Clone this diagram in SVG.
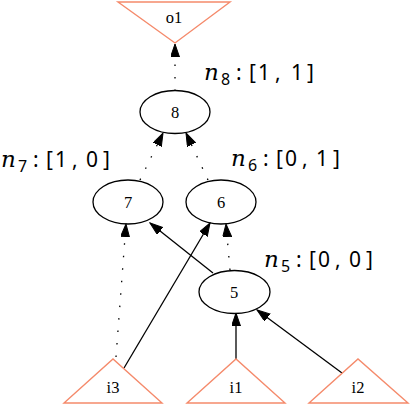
<svg xmlns="http://www.w3.org/2000/svg" width="415" height="412" viewBox="0 0 415 412">
<style>
.bg{fill:#ffffff}
.ell{fill:none;stroke:#000;stroke-width:1.3}
.tri{fill:none;stroke:#f58a6b;stroke-width:1.4}
.nl{font-family:"Liberation Serif","Times New Roman",serif;font-size:16.5px;fill:#000;text-anchor:middle}
.e{stroke:#000;stroke-width:1.3;fill:none}
.dot{stroke-dasharray:1.5 11}
.lbl{font-family:"Noto Sans","Open Sans",sans-serif;font-size:21px;fill:#000}
.n{font-family:"DejaVu Serif",serif;font-style:italic;font-size:23px}
.sub{font-size:16px}
</style>
<defs>
<marker id="ah" markerUnits="userSpaceOnUse" markerWidth="14" markerHeight="10" refX="13" refY="4.5" orient="auto">
<path d="M0,0 L13,4.5 L0,9 z" fill="#000" stroke="#000" stroke-width="1"/>
</marker>
</defs>
<rect class="bg" x="0" y="0" width="415" height="412"/>
<g id="connectors">
<line class="e dot" x1="175" y1="91" x2="175" y2="44" marker-end="url(#ah)"/>
<line class="e dot" x1="140" y1="180" x2="163" y2="133" marker-end="url(#ah)"/>
<line class="e dot" x1="208" y1="180" x2="186" y2="133" marker-end="url(#ah)"/>
<line class="e dot" x1="116" y1="357" x2="126" y2="224" marker-end="url(#ah)"/>
<line class="e" x1="124" y1="368" x2="210" y2="223" marker-end="url(#ah)"/>
<line class="e" x1="213" y1="273" x2="150" y2="223" marker-end="url(#ah)"/>
<line class="e dot" x1="230" y1="270" x2="226" y2="224" marker-end="url(#ah)"/>
<line class="e" x1="236" y1="359" x2="236" y2="313" marker-end="url(#ah)"/>
<line class="e" x1="342" y1="373" x2="257" y2="310" marker-end="url(#ah)"/>
</g>
<g id="o1">
<polygon class="tri" points="118,2 230,2 175,43"/>
<text class="nl" x="174" y="23">o1</text>
</g>
<g id="n8">
<ellipse class="ell" cx="175" cy="112" rx="35" ry="21.5"/>
<text class="nl" x="175" y="118">8</text>
</g>
<g id="n7">
<ellipse class="ell" cx="128" cy="202" rx="35" ry="22"/>
<text class="nl" x="128" y="208">7</text>
</g>
<g id="n6">
<ellipse class="ell" cx="221" cy="202" rx="35" ry="22"/>
<text class="nl" x="221" y="208">6</text>
</g>
<g id="n5">
<ellipse class="ell" cx="234.5" cy="292" rx="35.5" ry="21.5"/>
<text class="nl" x="234" y="298">5</text>
</g>
<g id="i3">
<polygon class="tri" points="64,403 162,403 113,359"/>
<text class="nl" x="113" y="393">i3</text>
</g>
<g id="i1">
<polygon class="tri" points="187,403 285,403 236,359"/>
<text class="nl" x="236" y="393">i1</text>
</g>
<g id="i2">
<polygon class="tri" points="309,403 408,403 358,359"/>
<text class="nl" x="358" y="393">i2</text>
</g>
<g id="labels">
<text class="lbl"><tspan class="n" x="204" y="80">n</tspan><tspan class="sub" x="221" y="85">8</tspan><tspan x="236 243 249 258 275 282 291 307" y="80">: [1, 1]</tspan></text>
<text class="lbl"><tspan class="n" x="1" y="167">n</tspan><tspan class="sub" x="18" y="172">7</tspan><tspan x="33 40 46 55 72 79 86 103" y="167">: [1, 0]</tspan></text>
<text class="lbl"><tspan class="n" x="231" y="166">n</tspan><tspan class="sub" x="248" y="171">6</tspan><tspan x="263 270 276 285 302 309 316 333" y="166">: [0, 1]</tspan></text>
<text class="lbl"><tspan class="n" x="264" y="267">n</tspan><tspan class="sub" x="281" y="272">5</tspan><tspan x="296 303 309 318 335 342 349 366" y="267">: [0, 0]</tspan></text>
</g>
</svg>
